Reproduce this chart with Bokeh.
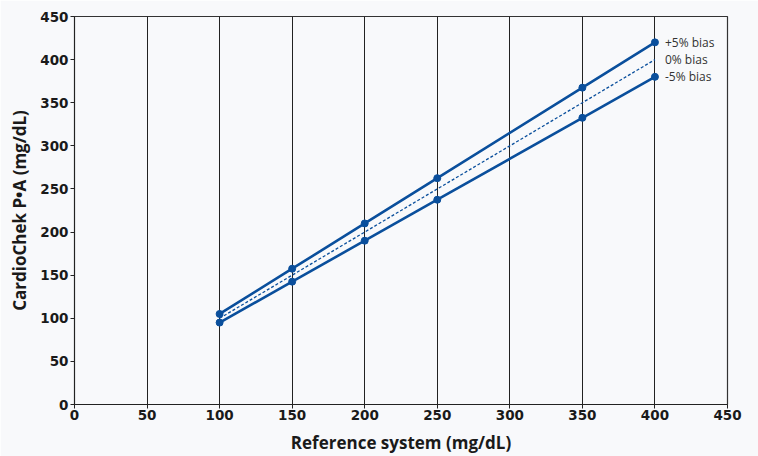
from bokeh.plotting import figure
from bokeh.embed import file_html
from bokeh.resources import INLINE
from bokeh.models import Range1d, FixedTicker, ColumnDataSource
from bokeh.core.properties import value

ref_x = [100, 150, 200, 250, 350, 400]
plus5 = [105, 157.5, 210, 262.5, 367.5, 420]
minus5 = [95, 142.5, 190, 237.5, 332.5, 380]
zero_x = [100, 400]
zero_y = [100, 400]
ticks = [0, 50, 100, 150, 200, 250, 300, 350, 400, 450]
labels = ["+5% bias", "0% bias", "-5% bias"]
label_y = [420, 400, 380]

BG = "#f8f9fb"
BLUE = "#0a4f9c"
FONT = "Open Sans"

p = figure(width=758, height=456, output_backend="svg", toolbar_location=None,
           x_range=Range1d(0, 450), y_range=Range1d(0, 450),
           background_fill_color=BG, border_fill_color=BG,
           min_border_left=74, min_border_top=16, min_border_right=31, min_border_bottom=51)
p.outline_line_color = "#333333"
p.outline_line_width = 1.2

p.xgrid.ticker = FixedTicker(ticks=ticks)
p.xgrid.grid_line_color = "#222222"
p.xgrid.grid_line_width = 1
p.ygrid.grid_line_color = None

for ax in (p.xaxis[0], p.yaxis[0]):
    ax.ticker = FixedTicker(ticks=ticks)
    ax.minor_tick_line_color = None
    ax.major_tick_in = 0
    ax.major_tick_out = 4
    ax.axis_line_color = "#222222"
    ax.major_tick_line_color = "#222222"
    ax.major_label_text_font = "DejaVu Sans"
    ax.major_label_text_font_style = "bold"
    ax.major_label_text_font_size = "13.5px"
    ax.major_label_text_color = "#1a1a1a"
    ax.axis_label_text_font = FONT
    ax.axis_label_text_font_style = "bold"
    ax.axis_label_text_font_size = "17px"
    ax.axis_label_text_color = "#1a1a1a"

p.xaxis.axis_label = "Reference system (mg/dL)"
p.yaxis.axis_label = "CardioChek P•A (mg/dL)"
p.xaxis.axis_label_standoff = 8
p.yaxis.axis_label_standoff = 6
p.xaxis.major_label_standoff = 1
p.yaxis.major_label_standoff = 2

p.line(ref_x, plus5, line_color=BLUE, line_width=2.6)
p.line(ref_x, minus5, line_color=BLUE, line_width=2.6)
p.line(zero_x, zero_y, line_color=BLUE, line_width=1.3, line_dash="3 2")
p.scatter(ref_x, plus5, size=7, color=BLUE)
p.scatter(ref_x, minus5, size=7, color=BLUE)

src = ColumnDataSource(dict(x=[400, 400, 400], y=label_y, t=labels))
p.text(x="x", y="y", text="t", source=src, x_offset=10, text_baseline="middle",
       text_font=value(FONT), text_font_size="12px", text_color="#333333")

open("out.html", "w").write(file_html(p, INLINE))
